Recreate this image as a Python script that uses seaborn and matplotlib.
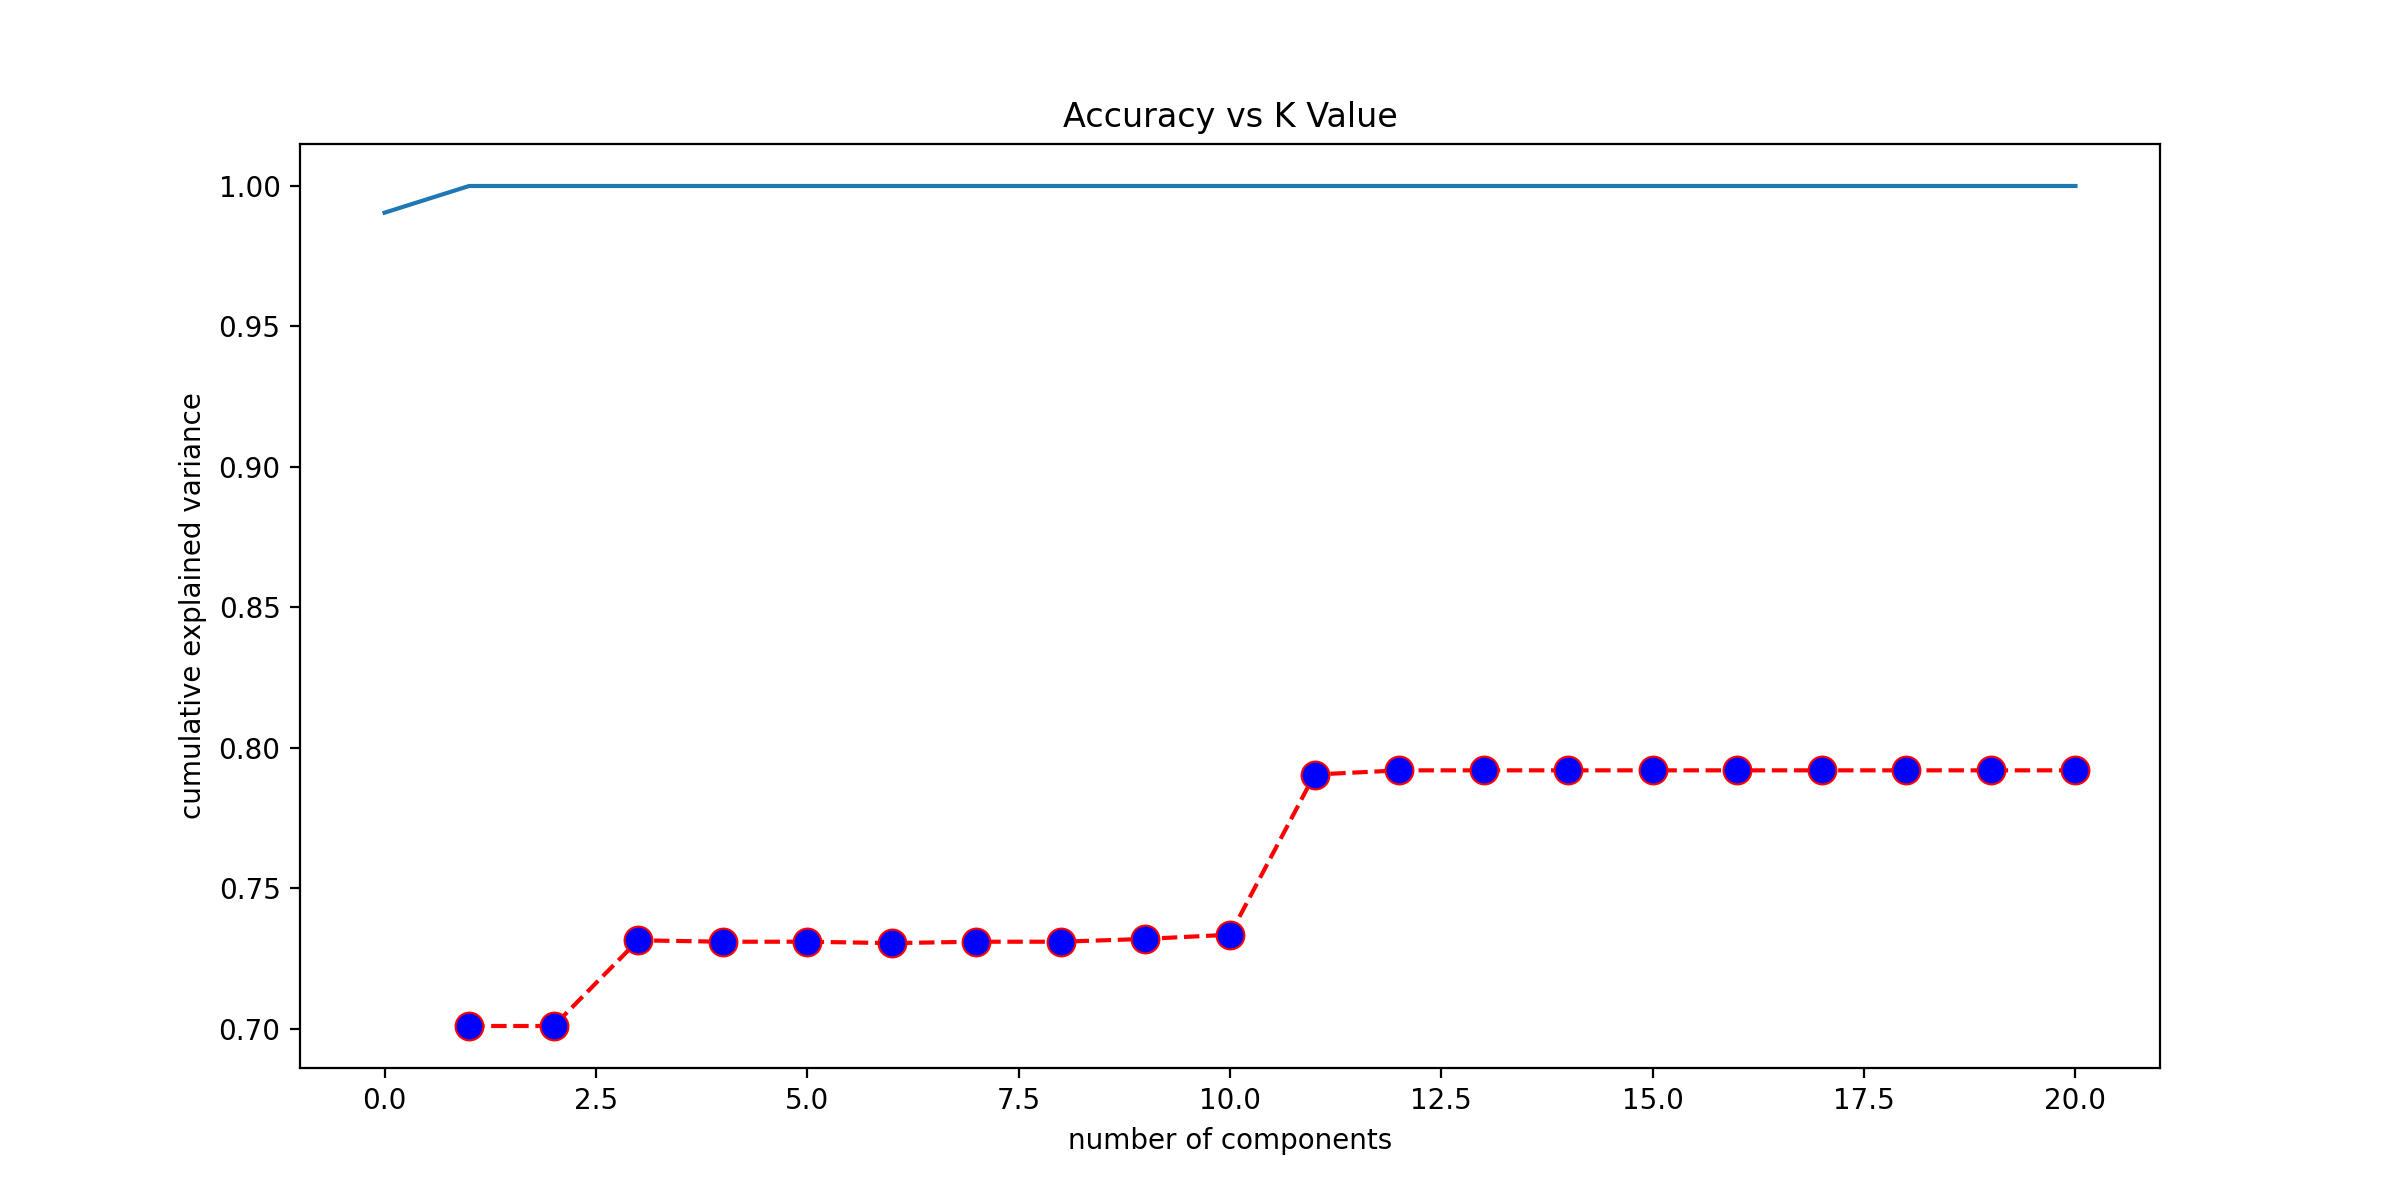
import matplotlib
matplotlib.use("Agg")
import matplotlib.pyplot as plt
import seaborn as sns

# cumulative explained variance (blue line)
var_x = list(range(0, 21))
var_y = [0.9905] + [1.0] * 20

# accuracy per K (red dashed with markers)
k_values = list(range(1, 21))
accuracy = [0.701, 0.701, 0.7315, 0.731, 0.731, 0.7305, 0.731, 0.731, 0.732, 0.7335,
            0.7905, 0.792, 0.792, 0.792, 0.792, 0.792, 0.792, 0.792, 0.792, 0.792]

plt.figure(figsize=(12, 6), dpi=200)
sns.lineplot(x=var_x, y=var_y, color="#1f77b4")
sns.lineplot(x=k_values, y=accuracy, color="red", linestyle="--", marker="o",
             markerfacecolor="blue", markeredgecolor="red", markersize=10)
plt.title("Accuracy vs K Value")
plt.xlabel("number of components")
plt.ylabel("cumulative explained variance")
plt.savefig("out.png")
